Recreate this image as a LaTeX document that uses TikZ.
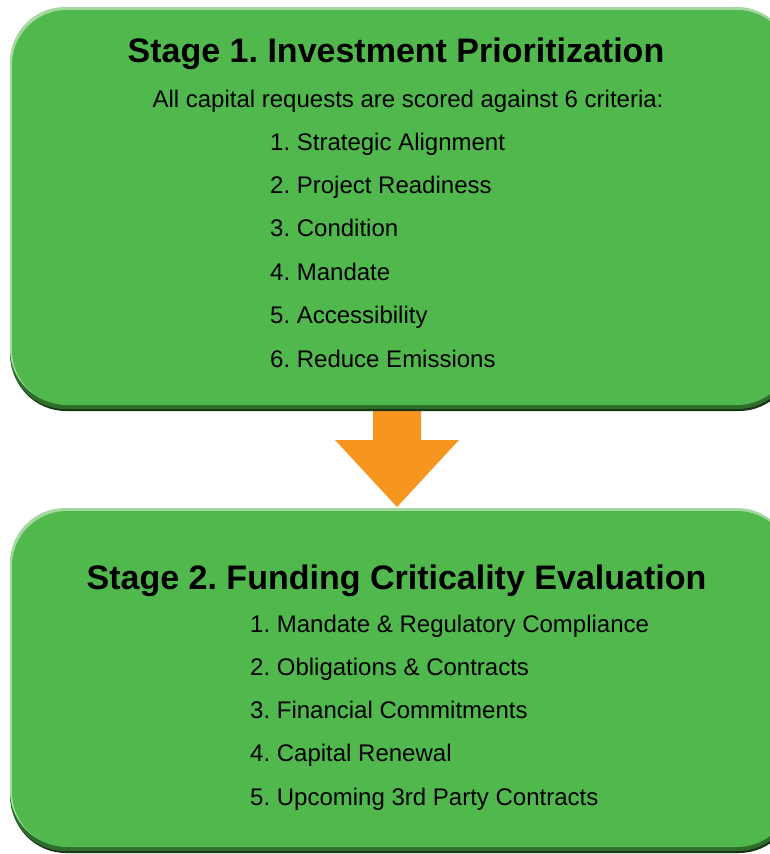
\documentclass[tikz,border=0pt]{standalone}
\usepackage{fontspec}
\setmainfont{Liberation Sans}
\usetikzlibrary{positioning}
\definecolor{boxgreen}{RGB}{80,184,76}
\definecolor{rimlight}{RGB}{165,216,160}
\definecolor{rimmid}{RGB}{46,110,43}
\definecolor{rimdark}{RGB}{24,52,22}
\definecolor{arroworange}{RGB}{247,150,30}
\frenchspacing
\begin{document}
\begin{tikzpicture}[x=1pt,y=-1pt,
  title/.style={font=\fontsize{34}{40}\selectfont\bfseries, inner sep=0, anchor=base},
  item/.style={font=\fontsize{24}{28}\selectfont, inner sep=0, anchor=base west}]
\useasboundingbox (0,0) rectangle (770,854);
\clip (0,0) rectangle (770,854);

% arrow between the stages
\coordinate (arrowtop) at (397,405);
\coordinate (arrowtip) at (397,507);
\fill[arroworange] ([xshift=-24pt]arrowtop) -- ++(48,0) -- ++(0,35) -- ++(38,0) -- (arrowtip) -- ++(-62,-67) -- ++(38,0) -- cycle;

% stage 1
\fill[rimdark, rounded corners=55] (11,12) rectangle (794,411);
\fill[rimmid, rounded corners=55] (10,10) rectangle (793,409);
\fill[rimlight, rounded corners=55] (10,7) rectangle (792,404);
\fill[boxgreen, rounded corners=55] (12,10) rectangle (792,405);
\node[title] (title1) at (396,62) {Stage 1. Investment Prioritization};
\node[item, anchor=base] (intro1) at (408,107) {All capital requests are scored against 6 criteria:};
\foreach \t [count=\i] in {Strategic Alignment, Project Readiness, Condition, Mandate, Accessibility, Reduce Emissions}
  \node[item] (crit\i) at (270,106.6+43.4*\i) {\i. \t};

% stage 2
\fill[rimdark, rounded corners=55] (11,513) rectangle (794,853);
\fill[rimmid, rounded corners=55] (10,511) rectangle (793,851);
\fill[rimlight, rounded corners=55] (10,508) rectangle (792,846);
\fill[boxgreen, rounded corners=55] (12,511) rectangle (792,847);
\node[title] (title2) at (396.5,589) {Stage 2. Funding Criticality Evaluation};
\foreach \t [count=\i] in {Mandate \& Regulatory Compliance, Obligations \& Contracts, Financial Commitments, Capital Renewal, Upcoming 3rd Party Contracts}
  \node[item] (crit2\i) at (250,588.75+43.25*\i) {\i. \t};
\end{tikzpicture}
\end{document}
